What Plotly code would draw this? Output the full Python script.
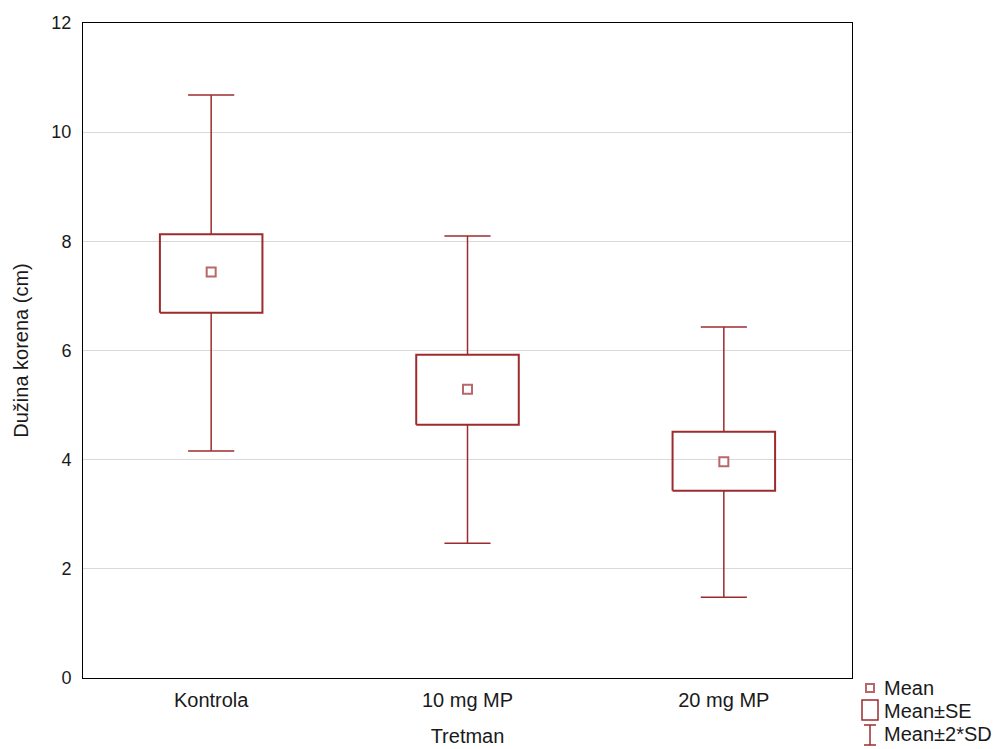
import plotly.graph_objects as go

categories = ["Kontrola", "10 mg MP", "20 mg MP"]
means = [7.44, 5.29, 3.96]
se_low = [6.69, 4.64, 3.43]
se_high = [8.13, 5.92, 4.51]
sd_low = [4.16, 2.47, 1.48]
sd_high = [10.68, 8.10, 6.43]
y_ticks = [0, 2, 4, 6, 8, 10, 12]

RED = "#9C2B2E"
MEAN_RED = "#B8676A"
FONT = "Liberation Sans, Arial, sans-serif"
TXT = "#1a1a1a"
box_half = 0.2
cap_half = 0.09

fig = go.Figure()

# whiskers
wx, wy = [], []
for i in range(len(categories)):
    wx += [i, i, None, i, i, None,
           i - cap_half, i + cap_half, None, i - cap_half, i + cap_half, None]
    wy += [sd_high[i], se_high[i], None, se_low[i], sd_low[i], None,
           sd_high[i], sd_high[i], None, sd_low[i], sd_low[i], None]
fig.add_trace(go.Scatter(x=wx, y=wy, mode="lines",
                         line=dict(color=RED, width=1.5), showlegend=False, hoverinfo="skip"))

# SE boxes
bx, by = [], []
for i in range(len(categories)):
    bx += [i - box_half, i + box_half, i + box_half, i - box_half, i - box_half, None]
    by += [se_low[i], se_low[i], se_high[i], se_high[i], se_low[i], None]
fig.add_trace(go.Scatter(x=bx, y=by, mode="lines",
                         line=dict(color=RED, width=2), showlegend=False, hoverinfo="skip"))

# means
fig.add_trace(go.Scatter(x=list(range(len(categories))), y=means, mode="markers",
                         marker=dict(symbol="square", size=9, color="white",
                                     line=dict(color=MEAN_RED, width=2)),
                         showlegend=False))

def px(x):
    return (x - 83) / 769

def py(y):
    return (678 - y) / 655

shapes = []
# legend: mean marker
shapes.append(dict(type="rect", xref="paper", yref="paper",
                   x0=px(866), x1=px(874), y0=py(692), y1=py(684),
                   line=dict(color=MEAN_RED, width=2), fillcolor="white"))
# legend: SE box
shapes.append(dict(type="rect", xref="paper", yref="paper",
                   x0=px(862), x1=px(878), y0=py(720), y1=py(700),
                   line=dict(color=RED, width=1.5), fillcolor="white"))
# legend: SD I-beam
shapes.append(dict(type="line", xref="paper", yref="paper",
                   x0=px(870), x1=px(870), y0=py(745), y1=py(725),
                   line=dict(color=RED, width=1.5)))
shapes.append(dict(type="line", xref="paper", yref="paper",
                   x0=px(864), x1=px(876), y0=py(725), y1=py(725),
                   line=dict(color=RED, width=1.5)))
shapes.append(dict(type="line", xref="paper", yref="paper",
                   x0=px(864), x1=px(876), y0=py(745), y1=py(745),
                   line=dict(color=RED, width=1.5)))

annotations = []
for txt, yy in [("Mean", 688), ("Mean±SE", 711), ("Mean±2*SD", 734)]:
    annotations.append(dict(text=txt, xref="paper", yref="paper", x=px(882), y=py(yy),
                            xanchor="left", yanchor="middle", showarrow=False,
                            font=dict(family=FONT, size=20, color=TXT)))

fig.update_layout(
    width=1003, height=749,
    margin=dict(l=75, r=159, t=15, b=79, autoexpand=False),
    paper_bgcolor="white", plot_bgcolor="white",
    font=dict(family=FONT, size=20, color=TXT),
    showlegend=False,
    shapes=shapes, annotations=annotations,
    xaxis=dict(range=[-0.5, 2.5], tickvals=list(range(len(categories))), ticktext=categories,
               showgrid=False, zeroline=False, showline=True, linecolor="black", linewidth=1,
               mirror=True, ticks="", ticklabelstandoff=4, automargin=False,
               title=dict(text="Tretman", font=dict(family=FONT, size=20, color=TXT), standoff=18),
               tickfont=dict(family=FONT, size=20, color=TXT)),
    yaxis=dict(range=[0, 12], tickvals=y_ticks, showgrid=True, gridcolor="#d9d9d9", gridwidth=1,
               zeroline=False, showline=True, linecolor="black", linewidth=1, mirror=True,
               ticks="", ticklabelstandoff=7, automargin=False,
               tickfont=dict(family=FONT, size=18, color=TXT),
               title=dict(text="Dužina korena (cm)", font=dict(family=FONT, size=20, color=TXT),
                          standoff=17)),
)

fig.write_html("out.html")
